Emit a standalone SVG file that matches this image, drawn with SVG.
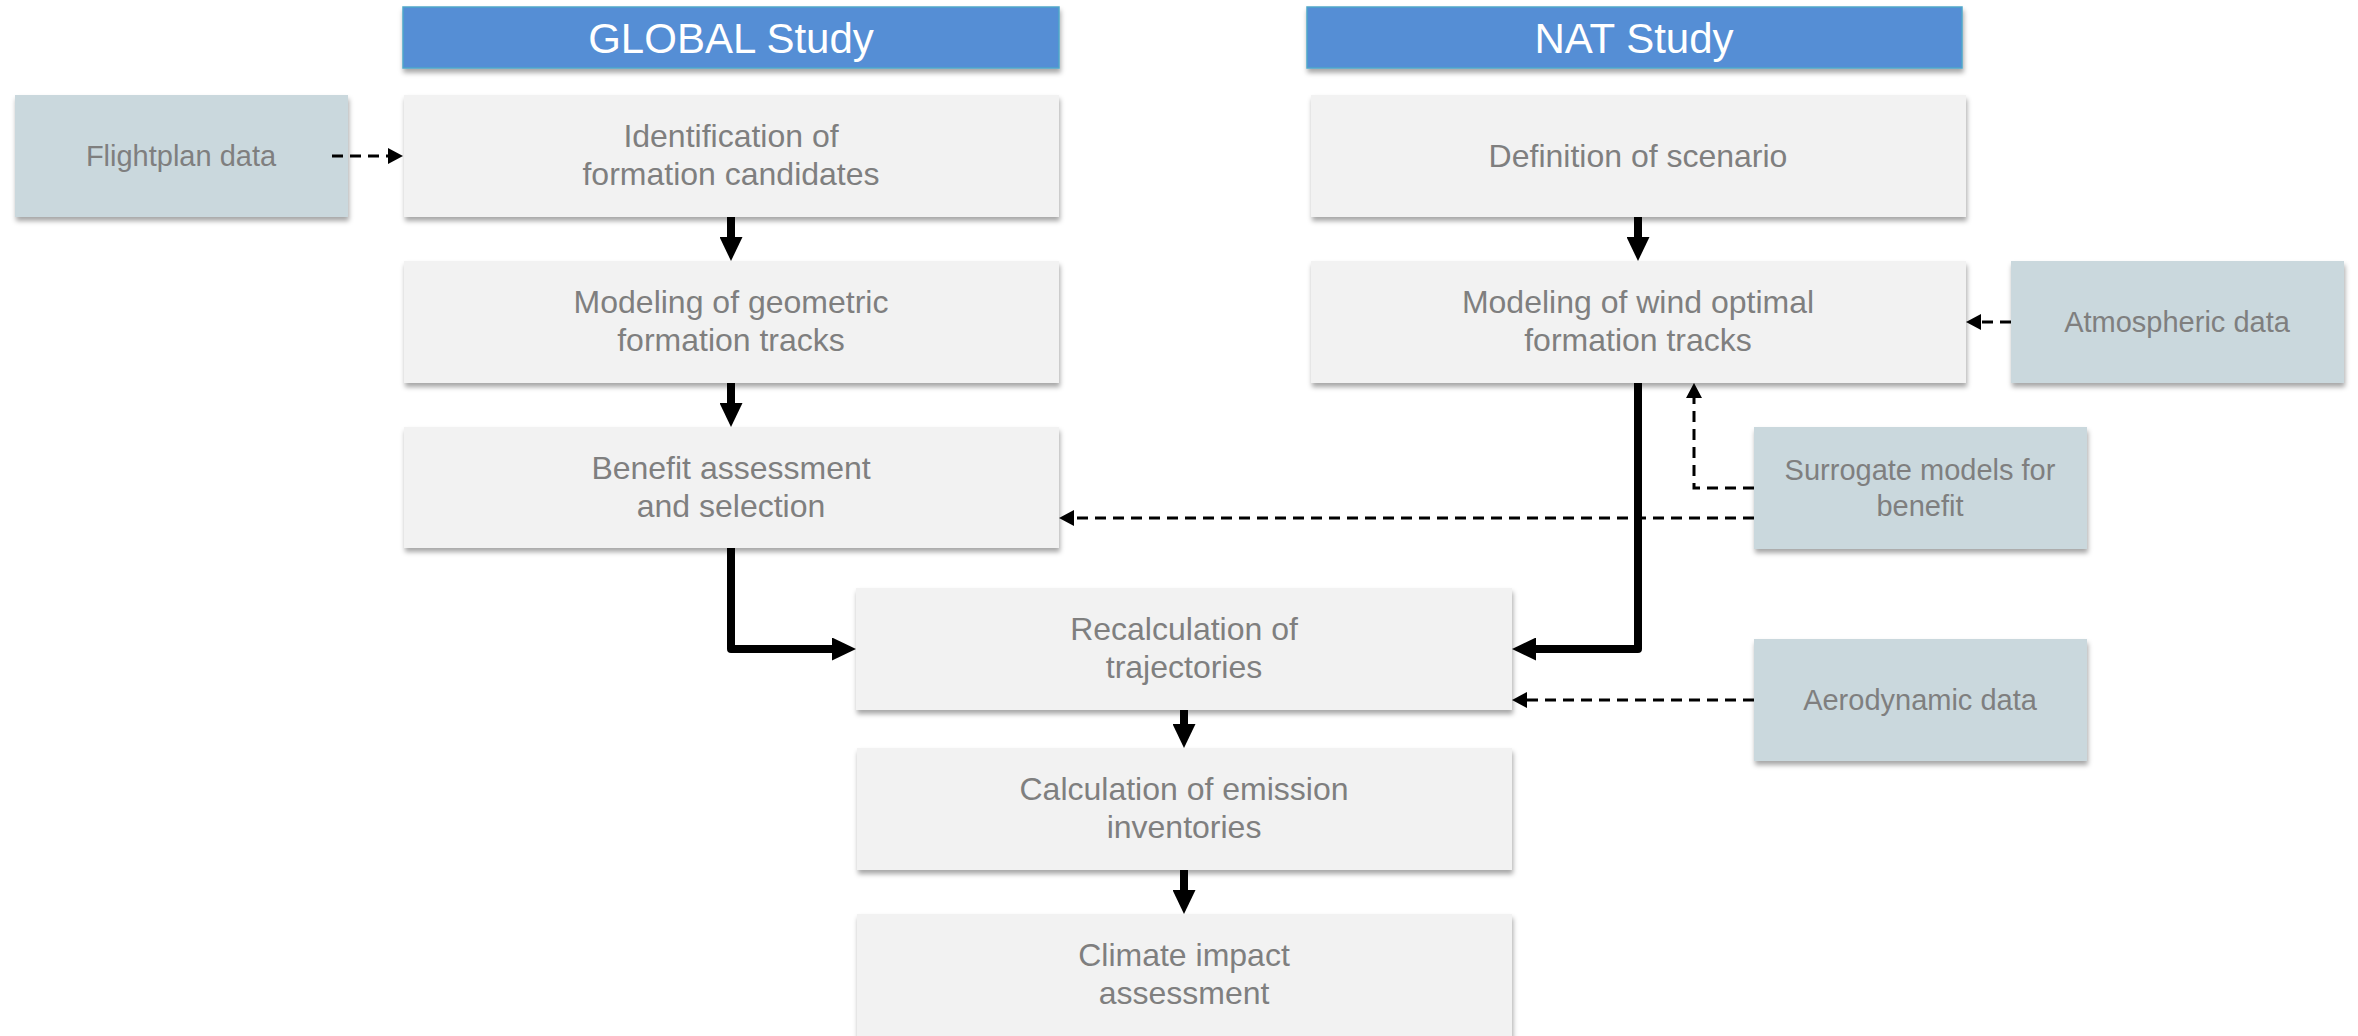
<svg xmlns="http://www.w3.org/2000/svg" width="2358" height="1036" viewBox="0 0 2358 1036">
  <style>
    .step { fill: #f2f2f2; filter: url(#shadow); }
    .data { fill: #cad8dd; filter: url(#shadow); }
    .head { fill: #558ed5; stroke: #4fa6c9; stroke-width: 1.5; filter: url(#shadow); }
    text { font-family: "Liberation Sans", Arial, sans-serif; text-anchor: middle; }
    .t { font-size: 32px; fill: #7f7f7f; }
    .td { font-size: 29px; fill: #7f7f7f; }
    .th { font-size: 42px; fill: #ffffff; }
    .flow { fill: none; stroke: #000; stroke-width: 8; stroke-linejoin: round; marker-end: url(#bold); }
    .input { fill: none; stroke: #000; stroke-width: 3; stroke-dasharray: 11 7; marker-end: url(#dash); }
  </style>
  <defs>
    <filter id="shadow" x="-5%" y="-10%" width="110%" height="130%">
      <feDropShadow dx="1" dy="4" stdDeviation="2.5" flood-color="#000" flood-opacity="0.35"/>
    </filter>
    <marker id="bold" viewBox="0 0 24 23" markerWidth="24" markerHeight="23" refX="0" refY="11.5" orient="auto" markerUnits="userSpaceOnUse">
      <path d="M0,0 L24,11.5 L0,23 Z" fill="#000"/>
    </marker>
    <marker id="dash" viewBox="0 0 15 16" markerWidth="15" markerHeight="16" refX="0" refY="8" orient="auto" markerUnits="userSpaceOnUse">
      <path d="M0,0 L15,8 L0,16 Z" fill="#000"/>
    </marker>
  </defs>

  <rect width="2358" height="1036" fill="#ffffff"/>

  <!-- column headers -->
  <g id="global-header">
    <rect class="head" x="403" y="7" width="656" height="61"/>
    <text class="th" x="731" y="53">GLOBAL Study</text>
  </g>
  <g id="nat-header">
    <rect class="head" x="1307" y="7" width="655" height="61"/>
    <text class="th" x="1634" y="53">NAT Study</text>
  </g>

  <!-- GLOBAL study steps -->
  <g id="identification">
    <rect class="step" x="404" y="95" width="655" height="122"/>
    <text class="t" x="731" y="147">Identification of</text>
    <text class="t" x="731" y="185">formation candidates</text>
  </g>
  <g id="geometric-tracks">
    <rect class="step" x="404" y="261" width="655" height="122"/>
    <text class="t" x="731" y="313">Modeling of geometric</text>
    <text class="t" x="731" y="351">formation tracks</text>
  </g>
  <g id="benefit">
    <rect class="step" x="404" y="427" width="655" height="121"/>
    <text class="t" x="731" y="479">Benefit assessment</text>
    <text class="t" x="731" y="517">and selection</text>
  </g>

  <!-- NAT study steps -->
  <g id="scenario">
    <rect class="step" x="1311" y="95" width="655" height="122"/>
    <text class="t" x="1638" y="167">Definition of scenario</text>
  </g>
  <g id="wind-tracks">
    <rect class="step" x="1311" y="261" width="655" height="122"/>
    <text class="t" x="1638" y="313">Modeling of wind optimal</text>
    <text class="t" x="1638" y="351">formation tracks</text>
  </g>

  <!-- shared steps -->
  <g id="recalculation">
    <rect class="step" x="856" y="588" width="656" height="122"/>
    <text class="t" x="1184" y="640">Recalculation of</text>
    <text class="t" x="1184" y="678">trajectories</text>
  </g>
  <g id="emissions">
    <rect class="step" x="857" y="748" width="655" height="122"/>
    <text class="t" x="1184" y="800">Calculation of emission</text>
    <text class="t" x="1184" y="838">inventories</text>
  </g>
  <g id="climate">
    <rect class="step" x="857" y="914" width="655" height="130"/>
    <text class="t" x="1184" y="966">Climate impact</text>
    <text class="t" x="1184" y="1004">assessment</text>
  </g>

  <!-- input data -->
  <g id="flightplan">
    <rect class="data" x="15" y="95" width="333" height="122"/>
    <text class="td" x="181" y="166">Flightplan data</text>
  </g>
  <g id="atmospheric">
    <rect class="data" x="2011" y="261" width="333" height="122"/>
    <text class="td" x="2177" y="332">Atmospheric data</text>
  </g>
  <g id="surrogate">
    <rect class="data" x="1754" y="427" width="333" height="122"/>
    <text class="td" x="1920" y="480">Surrogate models for</text>
    <text class="td" x="1920" y="516">benefit</text>
  </g>
  <g id="aerodynamic">
    <rect class="data" x="1754" y="639" width="333" height="122"/>
    <text class="td" x="1920" y="710">Aerodynamic data</text>
  </g>

  <!-- connectors -->
  <g id="connectors">
    <path class="flow" d="M731,217 V237"/>
    <path class="flow" d="M731,383 V403"/>
    <path class="flow" d="M731,548 V649 H832"/>
    <path class="flow" d="M1638,217 V237"/>
    <path class="flow" d="M1638,383 V649 H1536"/>
    <path class="flow" d="M1184,710 V724"/>
    <path class="flow" d="M1184,870 V890"/>

    <path class="input" d="M332,156 H388"/>
    <path class="input" d="M2011,322 H1981"/>
    <path class="input" d="M1754,488 H1694 V398"/>
    <path class="input" d="M1754,518 H1074"/>
    <path class="input" d="M1754,700 H1527"/>
  </g>
</svg>
